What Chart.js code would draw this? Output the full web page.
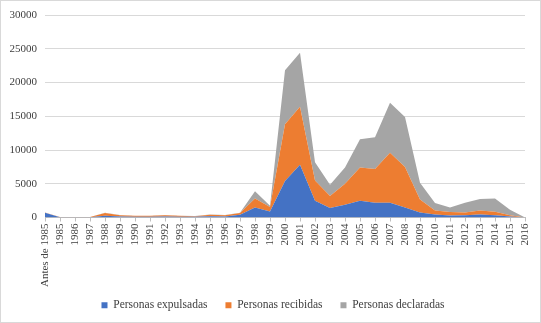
<!DOCTYPE html>
<html>
<head>
<meta charset="utf-8">
<script src="https://cdn.jsdelivr.net/npm/chart.js@4.4.0/dist/chart.umd.min.js"></script>
<style>
  html, body { margin: 0; padding: 0; background: #fff; }
  .wrap { position: relative; width: 541px; height: 323px; }
  .wrap::after { content: ""; position: absolute; left: 0; top: 0; right: 0; bottom: 0; border: 1px solid #d9d9d9; pointer-events: none; }
  canvas { display: block; }
</style>
</head>
<body>
<div class="wrap"><canvas id="areaChart" width="541" height="323"></canvas></div>
<script>
// Data
const categories = ["Antes de 1985", "1985", "1986", "1987", "1988", "1989", "1990", "1991", "1992", "1993",
  "1994", "1995", "1996", "1997", "1998", "1999", "2000", "2001", "2002", "2003", "2004", "2005",
  "2006", "2007", "2008", "2009", "2010", "2011", "2012", "2013", "2014", "2015", "2016"];

const expulsadas = [700, 50, 30, 30, 250, 150, 100, 100, 150, 100, 100, 200, 150, 400, 1500, 900,
  5400, 7800, 2500, 1400, 1900, 2500, 2200, 2200, 1500, 750, 450, 300, 350, 450, 350, 150, 0];

const recibidas = [50, 30, 30, 50, 400, 200, 150, 150, 200, 150, 100, 200, 200, 250, 1300, 650,
  8400, 8600, 3000, 1800, 3100, 4900, 5000, 7400, 6000, 1900, 600, 500, 400, 600, 500, 200, 0];

const declaradas = [0, 0, 0, 0, 50, 20, 20, 20, 30, 20, 20, 30, 30, 50, 1100, 200,
  8000, 8000, 2700, 1650, 2400, 4200, 4700, 7400, 7400, 2500, 1100, 700, 1450, 1700, 1950, 800, 0];

const yTicks = [0, 5000, 10000, 15000, 20000, 25000, 30000];

const serif = "'Liberation Serif', 'Times New Roman', serif";

function areaSet(label, data, color, fill) {
  return {
    label: label,
    data: data,
    backgroundColor: color,
    borderColor: color,
    borderWidth: 0,
    pointRadius: 0,
    tension: 0,
    fill: fill,
  };
}

// let the long rotated x labels run below the axis box without being clipped
const unclipX = {
  id: "unclipX",
  afterLayout(chart) {
    chart.scales.x.bottom = chart.height;
  },
};

new Chart(document.getElementById("areaChart"), {
  type: "line",
  data: {
    labels: categories,
    datasets: [
      areaSet("Personas expulsadas", expulsadas, "#4472C4", "origin"),
      areaSet("Personas recibidas", recibidas, "#ED7D31", "-1"),
      areaSet("Personas declaradas", declaradas, "#A5A5A5", "-1"),
    ],
  },
  plugins: [unclipX],
  options: {
    responsive: false,
    animation: false,
    layout: { padding: { top: 15, right: 0, left: 5, bottom: 2 } },
    plugins: {
      legend: {
        position: "bottom",
        labels: {
          boxWidth: 6,
          boxHeight: 6,
          padding: 18,
          color: "#404040",
          font: { family: serif, size: 11.5 },
        },
      },
      tooltip: { enabled: false },
    },
    scales: {
      x: {
        offset: false,
        grid: {
          display: true,
          drawOnChartArea: false,
          drawTicks: true,
          tickLength: 4,
          color: "#bfbfbf",
        },
        border: { color: "#bfbfbf" },
        ticks: {
          autoSkip: false,
          maxRotation: 90,
          minRotation: 90,
          padding: 2,
          color: "#404040",
          font: { family: serif, size: 11 },
        },
        afterFit: function (scale) {
          scale.height = 64;
          scale.paddingLeft = 0;
          scale.paddingRight = 16;
        },
      },
      y: {
        stacked: true,
        min: 0,
        max: 30000,
        afterBuildTicks: function (scale) {
          scale.ticks = yTicks.map((v) => ({ value: v }));
        },
        grid: { color: "#d9d9d9", drawTicks: false },
        border: { display: false },
        ticks: {
          padding: 8,
          color: "#404040",
          font: { family: serif, size: 11 },
          callback: function (value) {
            return String(value);
          },
        },
        afterFit: function (scale) {
          scale.width = 40;
        },
      },
    },
  },
});
</script>
</body>
</html>
